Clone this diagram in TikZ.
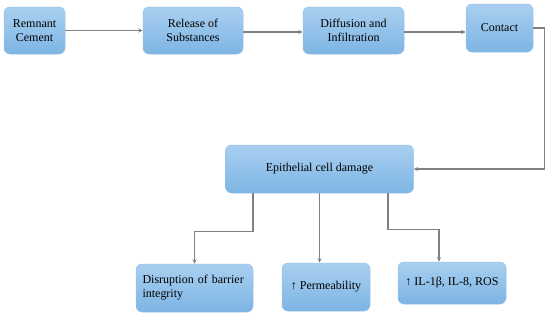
\documentclass[tikz,border=0pt]{standalone}
\usepackage{fontspec}
\setmainfont{Liberation Serif}
\usetikzlibrary{arrows.meta,positioning}
\definecolor{boxtop}{HTML}{A9CFF0}
\definecolor{boxbot}{HTML}{7DB5E4}
\definecolor{boxline}{HTML}{95C2EA}
\definecolor{arr}{HTML}{808080}
\tikzset{
  box/.style={rectangle, rounded corners=6pt, top color=boxtop, bottom color=boxbot,
    draw=boxline, line width=0.5pt, align=center, font=\fontsize{12}{14}\selectfont,
    inner sep=2pt},
  conn/.style={draw=arr, line width=1.5pt, -{Stealth[length=4.5pt,width=4pt]}},
}
\begin{document}
\begin{tikzpicture}[x=1pt,y=-1pt]
\useasboundingbox (0,0) rectangle (550,317);
\node[box, minimum width=61pt, minimum height=47pt] (b1) at (34.5,30.5) {Remnant\\Cement};
\node[box, minimum width=100pt, minimum height=47pt] (b2) at (193,30.5) {Release of\\Substances};
\node[box, minimum width=101pt, minimum height=47pt] (b3) at (353.5,30.5) {Diffusion and\\Infiltration};
\node[box, minimum width=67pt, minimum height=48pt] (b4) at (499.5,28) {Contact};
\node[box, minimum width=188pt, minimum height=48pt] (epi) at (319.5,169) {Epithelial cell damage};
\node[box, minimum width=117pt, minimum height=48pt, align=left, text width=104pt] (c1) at (194.5,288) {Disruption of barrier\\integrity};
\node[box, minimum width=88pt, minimum height=48pt] (c2) at (326,287) {↑ Permeability};
\node[box, minimum width=108pt, minimum height=42pt] (c3) at (452,283) {↑ IL-1β, IL-8, ROS};
\draw[conn] (b1.east) -- (b2.west);
\draw[conn] ([yshift=-1.5pt]b2.east) -- ([yshift=-1.5pt]b2.east -| b3.west);
\draw[conn] ([yshift=-1.5pt]b3.east) -- ([yshift=-1.5pt]b3.east -| b4.west);
\draw[conn] (b4.east) -- ++(11,0) |- (epi.east);
\draw[conn] ([xshift=-66.5pt]epi.south) -- ++(0,38) -| (c1.north);
\draw[conn] (epi.south) -- (epi.south |- c2.north);
\draw[conn] ([xshift=68.5pt]epi.south) -- ++(0,36) -| ([xshift=-13pt]c3.north);
\end{tikzpicture}
\end{document}
